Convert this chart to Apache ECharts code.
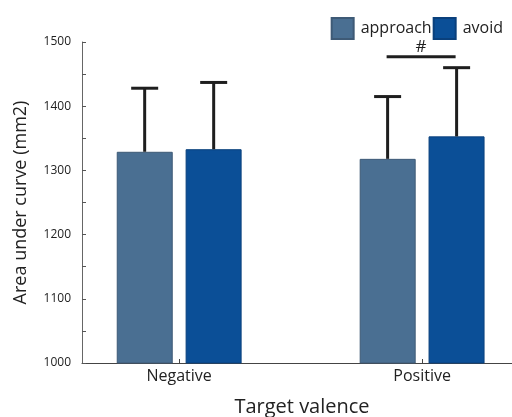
<!DOCTYPE html>
<html>
<head>
<meta charset="utf-8">
<script src="https://cdn.jsdelivr.net/npm/echarts@6/dist/echarts.min.js"></script>
<style>
  html, body { margin: 0; padding: 0; background: #fff; }
  #chart { width: 512px; height: 417px; }
</style>
</head>
<body>
<div id="chart"></div>
<script>
// Target valence groups, placed at x = 1 and x = 2
const categories = ['Negative', 'Positive'];
const groupPositions = [1, 2];
const seriesNames = ['approach', 'avoid'];

// Mean area under curve (mm2)
const approachMeans = [1329, 1318];
const avoidMeans = [1333, 1353];

// Upper end of the error bars
const approachUpper = [1428, 1415];
const avoidUpper = [1437, 1460];

// Significance bracket over the Positive group
const sigLevel = 1477;
const sigLabel = '#';

const yTicks = [1000, 1100, 1200, 1300, 1400, 1500];

const FONT = '"Open Sans", "DejaVu Sans", sans-serif';
const BAR_W = 56;
const BAR_SHIFT = 34.5;   // half of bar width plus half gap
const CAP_HALF = 13.5;

const colors = ['#4a6f92', '#0b4f97'];

const chart = echarts.init(document.getElementById('chart'));

function errorSeries(name, means, upper, dir) {
  return {
    type: 'custom',
    name: name + ' error',
    data: groupPositions.map((x, i) => [x, means[i], upper[i]]),
    z: 5,
    silent: true,
    renderItem(params, api) {
      const base = api.coord([api.value(0), api.value(1)]);
      const top = api.coord([api.value(0), api.value(2)]);
      const cx = base[0] + dir * BAR_SHIFT;
      const style = { stroke: '#1e1e1e', lineWidth: 3, fill: null };
      return {
        type: 'group',
        children: [
          { type: 'line', shape: { x1: cx, y1: base[1], x2: cx, y2: top[1] }, style },
          { type: 'line', shape: { x1: cx - CAP_HALF, y1: top[1], x2: cx + CAP_HALF, y2: top[1] }, style }
        ]
      };
    }
  };
}

const option = {
  backgroundColor: '#ffffff',
  animation: false,
  textStyle: { fontFamily: FONT },
  legend: {
    data: seriesNames,
    right: 4,
    top: 12,
    itemWidth: 22,
    itemHeight: 21,
    itemGap: 1,
    icon: 'rect',
    textStyle: { fontSize: 16, color: '#222', fontFamily: FONT, padding: [0, 0, 0, 2] }
  },
  grid: { left: 82, right: 0, top: 42, bottom: 54, outerBoundsMode: 'none' },
  xAxis: {
    type: 'value',
    min: 0.6,
    max: 2.37,
    name: 'Target valence',
    nameLocation: 'middle',
    nameGap: 34,
    nameTextStyle: { fontSize: 20, color: '#222', fontFamily: FONT, padding: [0, 0, 0, 10] },
    splitLine: { show: false },
    axisLine: { lineStyle: { color: '#444', width: 1 } },
    axisTick: {
      customValues: groupPositions,
      inside: true,
      length: 4,
      lineStyle: { color: '#444' }
    },
    axisLabel: {
      customValues: groupPositions,
      formatter: v => categories[groupPositions.indexOf(v)] || '',
      fontSize: 16,
      color: '#222',
      margin: 5,
      fontFamily: FONT
    }
  },
  yAxis: {
    type: 'value',
    min: 1000,
    max: 1500,
    interval: 100,
    name: 'Area under curve (mm2)',
    nameLocation: 'middle',
    nameGap: 52,
    nameTextStyle: { fontSize: 18, color: '#222', fontFamily: FONT },
    splitLine: { show: false },
    axisLine: { show: true, lineStyle: { color: '#666', width: 1 } },
    axisTick: { inside: true, length: 4, lineStyle: { color: '#555' } },
    minorTick: { show: true, splitNumber: 2, length: 4, lineStyle: { color: '#555' } },
    axisLabel: {
      customValues: yTicks,
      formatter: v => String(v),
      fontSize: 12,
      color: '#222',
      margin: 11,
      fontFamily: FONT
    }
  },
  series: [
    {
      type: 'bar',
      name: seriesNames[0],
      data: groupPositions.map((x, i) => [x, approachMeans[i]]),
      barWidth: BAR_W,
      barGap: '23%',
      itemStyle: { color: colors[0], borderColor: '#3e5a76', borderWidth: 1 }
    },
    {
      type: 'bar',
      name: seriesNames[1],
      data: groupPositions.map((x, i) => [x, avoidMeans[i]]),
      barWidth: BAR_W,
      barGap: '23%',
      itemStyle: { color: colors[1], borderColor: '#0a407c', borderWidth: 1 }
    },
    errorSeries(seriesNames[0], approachMeans, approachUpper, -1),
    errorSeries(seriesNames[1], avoidMeans, avoidUpper, 1),
    {
      type: 'custom',
      name: 'significance',
      data: [[groupPositions[1], sigLevel]],
      z: 6,
      silent: true,
      renderItem(params, api) {
        const p = api.coord([api.value(0), api.value(1)]);
        const x1 = p[0] - BAR_SHIFT - 1;
        const x2 = p[0] + BAR_SHIFT - 1;
        return {
          type: 'group',
          children: [
            { type: 'line', shape: { x1, y1: p[1], x2, y2: p[1] }, style: { stroke: '#1e1e1e', lineWidth: 3 } },
            {
              type: 'text',
              x: (x1 + x2) / 2,
              y: p[1] - 1,
              style: {
                text: sigLabel,
                fontSize: 17,
                fontFamily: FONT,
                fill: '#222',
                align: 'center',
                verticalAlign: 'bottom'
              }
            }
          ]
        };
      }
    }
  ]
};

chart.setOption(option);
</script>
</body>
</html>
